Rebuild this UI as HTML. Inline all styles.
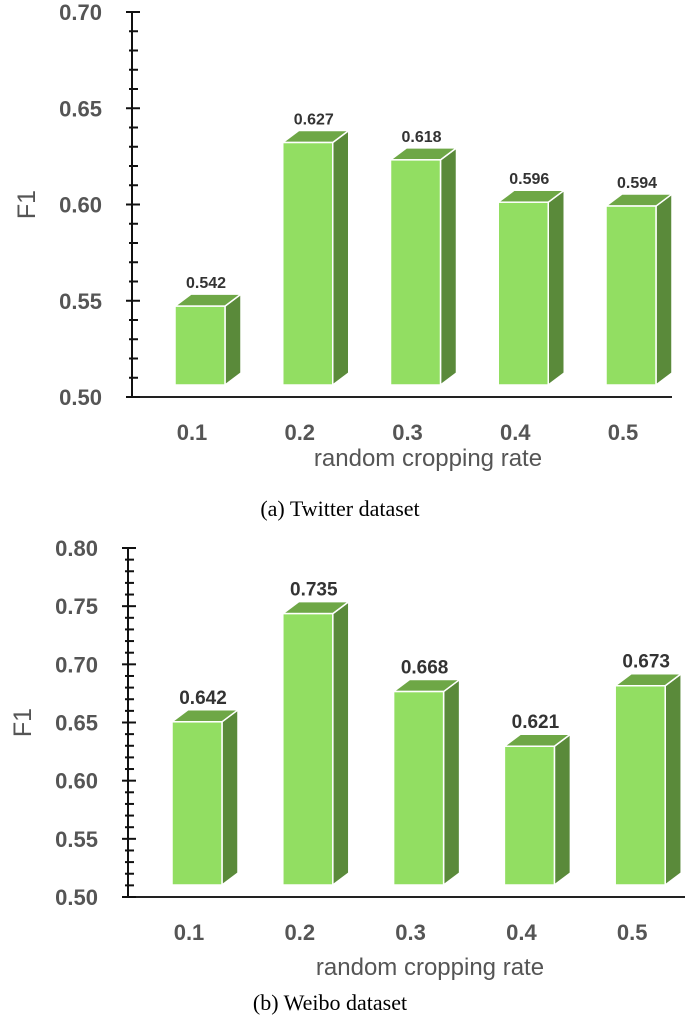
<!DOCTYPE html>
<html><head><meta charset="utf-8"><style>
html,body{margin:0;padding:0;background:#fff;width:685px;height:1024px;overflow:hidden}
svg{display:block}
</style></head><body>
<svg id="fig" width="685" height="1024" xmlns="http://www.w3.org/2000/svg"></svg>
<script>
const categories = ["0.1","0.2","0.3","0.4","0.5"];
const twitterValues = [0.542,0.627,0.618,0.596,0.594];
const weiboValues = [0.642,0.735,0.668,0.621,0.673];
const twitterTicks = ["0.50","0.55","0.60","0.65","0.70"];
const weiboTicks = ["0.50","0.55","0.60","0.65","0.70","0.75","0.80"];

const NS="http://www.w3.org/2000/svg";
const svg=document.getElementById('fig');
function mk(tag,attrs,parent,text){const e=document.createElementNS(NS,tag);for(const k in attrs)e.setAttribute(k,attrs[k]);if(text!==undefined)e.textContent=text;(parent||svg).appendChild(e);return e;}

function chart(cfg){
  const g=mk('g',{});
  
  
  const tmin=parseFloat(cfg.ticks[0]), tmax=parseFloat(cfg.ticks[cfg.ticks.length-1]);
  const y=v=>cfg.y0-(v-tmin)/(tmax-tmin)*(cfg.y0-cfg.y1);
  const xb=i=>cfg.x0+i*cfg.step;
  const ya=mk('line',{x1:cfg.ax,y1:cfg.y1,x2:cfg.ax,y2:cfg.y0,stroke:'#111','stroke-width':2},g);
  
  const xa=mk('line',{x1:cfg.ax,y1:cfg.y0,x2:cfg.xend,y2:cfg.y0,stroke:'#222','stroke-width':2},g);
  
  const nMinor=Math.round((tmax-tmin)/0.01);
  for(let k=0;k<=nMinor;k++){
    const v=tmin+k*0.01, yy=y(v), major=k%5===0;
    mk('line',{x1:cfg.ax-(major?6:3),y1:yy,x2:cfg.ax+(major?8:6),y2:yy,stroke:'#111','stroke-width':2},g);
  }
  cfg.ticks.forEach(t=>{
    const tl=mk('text',{x:cfg.ax-30,y:y(parseFloat(t))+8,'text-anchor':'end','font-family':'"Liberation Sans",sans-serif','font-weight':'bold','font-size':22,fill:'#555'},g,t);
    
  });
  const yt=mk('text',{x:0,y:0,transform:`translate(${cfg.ax-97},${(cfg.y0+cfg.y1)/2}) rotate(-90)`,'text-anchor':'middle','font-family':'"Liberation Sans",sans-serif','font-size':25,fill:'#555'},g,'F1');
  
  const W=50,DX=16,DY=12;
  cfg.values.forEach((v,i)=>{
    const bg=mk('g',{},g);
    
    
    const x=xb(i), top=y(v)-10, bot=cfg.barBot;
    mk('polygon',{points:`${x+W},${top} ${x+W+DX},${top-DY} ${x+W+DX},${bot-DY} ${x+W},${bot}`,fill:'#5a8a3a',stroke:'#fff','stroke-width':1.5},bg);
    mk('polygon',{points:`${x},${top} ${x+DX},${top-DY} ${x+W+DX},${top-DY} ${x+W},${top}`,fill:'#6ea746',stroke:'#fff','stroke-width':1.5},bg);
    mk('rect',{x:x,y:top,width:W,height:bot-top,fill:'#92de62',stroke:'#fff','stroke-width':1.5},bg);
    const vl=mk('text',{x:x+W/2+6,y:top-DY-6,'text-anchor':'middle','font-family':'"Liberation Sans",sans-serif','font-weight':'bold','font-size':cfg.vfs,fill:'#333'},g,v.toFixed(3));
    
    const cl=mk('text',{x:x+W/2-8,y:cfg.y0+cfg.tly,'text-anchor':'middle','font-family':'"Liberation Sans",sans-serif','font-weight':'bold','font-size':22,fill:'#555'},g,categories[i]);
    
  });
  const xt=mk('text',{x:cfg.xtx,y:cfg.y0+cfg.tty,'text-anchor':'middle','font-family':'"Liberation Sans",sans-serif','font-size':24,fill:'#555'},g,'random cropping rate');
  
  const cap=mk('text',{x:cfg.capx,y:cfg.capy,'text-anchor':'middle','font-family':'"Liberation Serif",serif','font-size':22,fill:'#000'},g,cfg.caption);
  
}
chart({name:'twitter-chart',values:twitterValues,ticks:twitterTicks,ax:132,y0:397,y1:12,barBot:385,x0:175,step:107.75,xend:672,vfs:16,tly:43,tty:69,xtx:428,caption:'(a) Twitter dataset',capx:340,capy:516});
chart({name:'weibo-chart',values:weiboValues,ticks:weiboTicks,ax:128,y0:897,y1:548,barBot:885,x0:172,step:110.8,xend:685,vfs:19,tly:43,tty:78,xtx:430,caption:'(b) Weibo dataset',capx:330,capy:1010});
</script>
</body></html>
